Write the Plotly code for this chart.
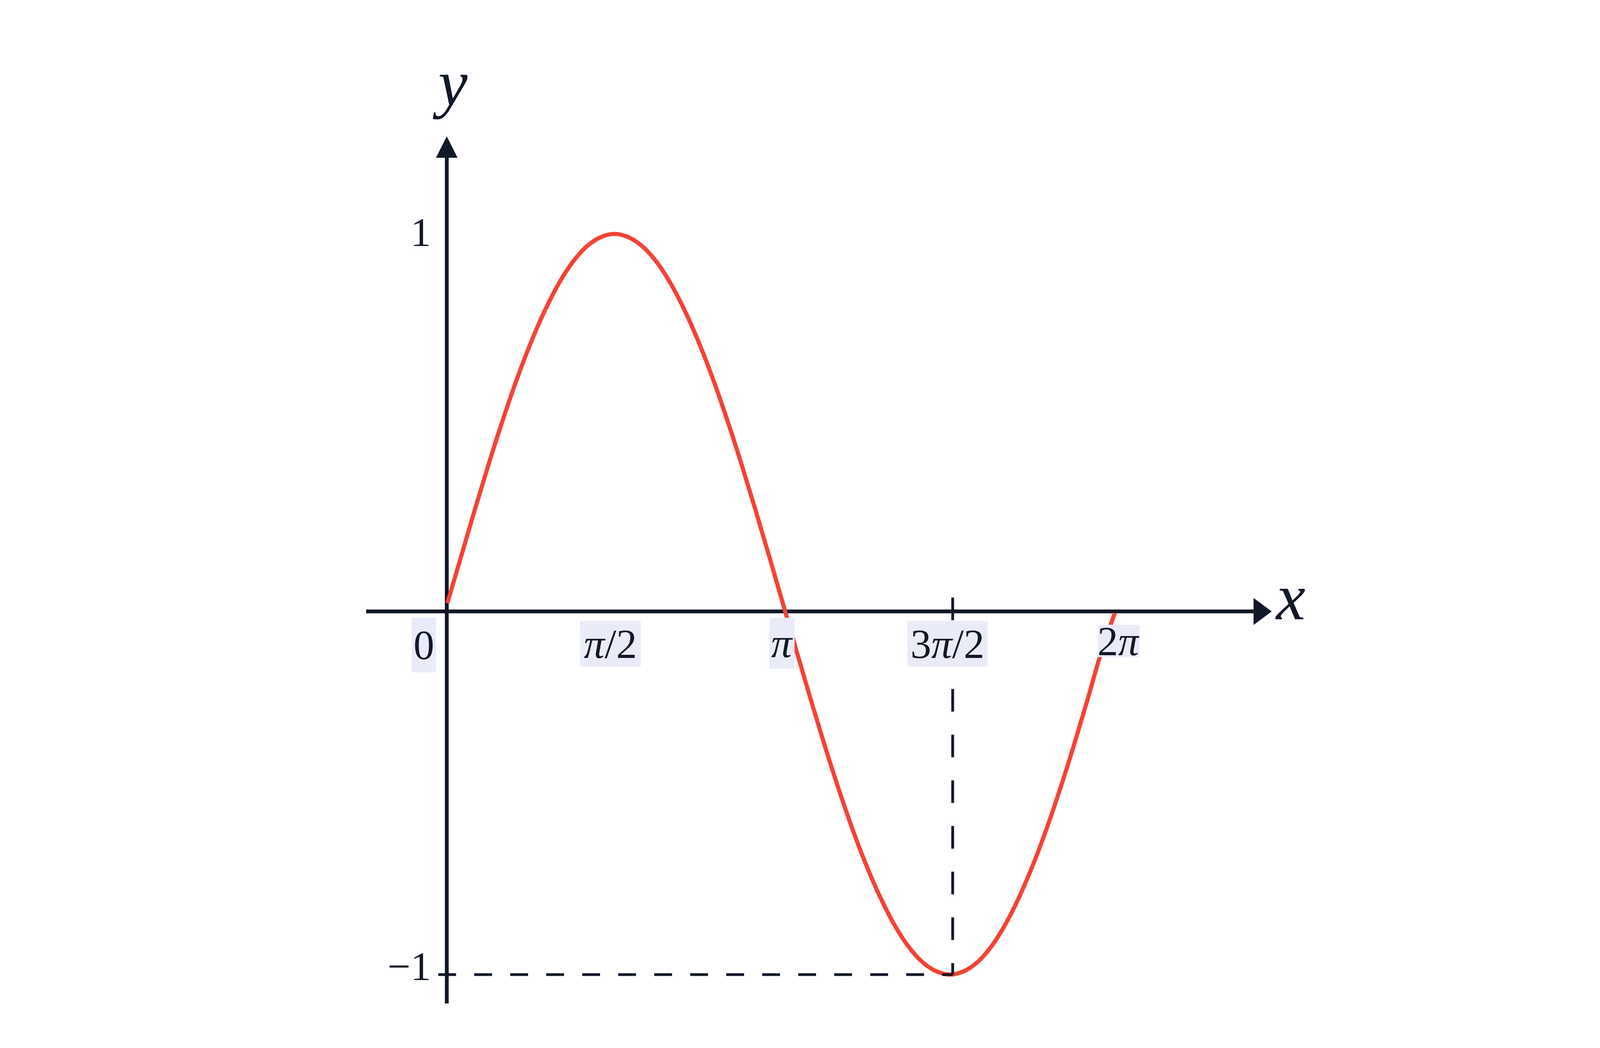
import math
import plotly.graph_objects as go

# ---- data ----
curve_x = [0.0057, 0.1354, 0.2651, 0.3948, 0.5245, 0.6542, 0.7839, 0.9136,
           1.0433, 1.1730, 1.3027, 1.4323, 1.5620,
           1.6929, 1.8238, 1.9547, 2.0856, 2.2165, 2.3474, 2.4783,
           2.6091, 2.7400, 2.8709, 3.0018, 3.1327,
           3.2624, 3.3921, 3.5218, 3.6515, 3.7812, 3.9109, 4.0406,
           4.1703, 4.3000, 4.4297, 4.5593, 4.6890,
           4.8168, 4.9446, 5.0724, 5.2001, 5.3279, 5.4557, 5.5835,
           5.7113, 5.8391, 5.9669, 6.0947, 6.2224]
curve_y = [0.003, 0.131, 0.259, 0.383, 0.500, 0.609, 0.707, 0.793,
           0.866, 0.924, 0.966, 0.991, 1.000,
           0.991, 0.966, 0.924, 0.866, 0.793, 0.707, 0.609,
           0.500, 0.383, 0.259, 0.131, 0.000,
           -0.131, -0.259, -0.383, -0.500, -0.609, -0.707, -0.793,
           -0.866, -0.924, -0.966, -0.991, -1.000,
           -0.991, -0.966, -0.924, -0.866, -0.793, -0.707, -0.609,
           -0.500, -0.383, -0.259, -0.131, -0.024]

x_tick_vals = [0, math.pi / 2, math.pi, 3 * math.pi / 2, 2 * math.pi]
x_tick_text = ["0", "<i>π</i>/2", "<i>π</i>", "3<i>π</i>/2", "2<i>π</i>"]
y_tick_vals = [1, -1]
y_tick_text = ["1", "−1"]

guide_point = (3 * math.pi / 2, -1)   # minimum marked by dashed guides

# ---- styling ----
INK = "#111827"
RED = "#F44336"
LABEL_BG = "#E9EBF9"
FONT = "Liberation Serif"

W, H = 5200, 2684
X_RANGE = [-4.1617, 10.742]
Y_RANGE = [-1.1982, 1.6315]

AXIS_Y = -0.0195          # x-axis line sits just under y = 0
X_AX_START, X_AX_END, X_TIP = -0.751, 7.515, 7.684
Y_AX_START, Y_AX_END, Y_TIP = -1.078, 1.2056, 1.2636
ARROW_HALF_X = 0.1003      # half width of y-arrow (x units)
ARROW_HALF_Y = 0.0364      # half height of x-arrow (y units)

fig = go.Figure()
fig.add_trace(go.Scatter(
    x=curve_x, y=curve_y, mode="lines",
    line=dict(color=RED, width=12, shape="spline", smoothing=1.0),
    hoverinfo="skip", showlegend=False,
))

shapes = [
    # axes
    dict(type="line", x0=X_AX_START, x1=X_AX_END, y0=AXIS_Y, y1=AXIS_Y,
         line=dict(color=INK, width=11), layer="below"),
    dict(type="line", x0=0, x1=0, y0=Y_AX_START, y1=Y_AX_END,
         line=dict(color=INK, width=11), layer="below"),
    dict(type="path",
         path=f"M {X_AX_END},{AXIS_Y + ARROW_HALF_Y} L {X_TIP},{AXIS_Y} "
              f"L {X_AX_END},{AXIS_Y - ARROW_HALF_Y} Z",
         fillcolor=INK, line=dict(width=0), layer="below"),
    dict(type="path",
         path=f"M {-ARROW_HALF_X},{Y_AX_END} L 0,{Y_TIP} L {ARROW_HALF_X},{Y_AX_END} Z",
         fillcolor=INK, line=dict(width=0), layer="below"),
    # dashed guides to the minimum
    dict(type="line", x0=-0.080, x1=guide_point[0], y0=guide_point[1], y1=guide_point[1],
         line=dict(color=INK, width=8, dash="58px,59px"), layer="above"),
    dict(type="line", x0=guide_point[0], x1=guide_point[0], y0=0.018, y1=guide_point[1],
         line=dict(color=INK, width=8, dash="58px,59px"), layer="above"),
]

annotations = []
# x tick labels with light boxes: (xshift, yshift, box w, box h)
box_specs = [(-75, -16, 70, 140), (-16.5, -24, 175, 117), (-6, -16, 72, 130),
             (-16.5, -24, 231, 117), (-8.5, -34, 119, 83)]
for val, txt, (xs, ys, bw, bh) in zip(x_tick_vals, x_tick_text, box_specs):
    annotations.append(dict(
        x=val, y=AXIS_Y, xref="x", yref="y", text=txt, showarrow=False,
        xanchor="center", yanchor="top", xshift=xs, yshift=ys,
        width=bw, height=bh, bgcolor=LABEL_BG, borderpad=0, borderwidth=0,
        valign="middle", align="center",
        font=dict(family=FONT, size=120, color=INK),
    ))
for val, txt, ys in zip(y_tick_vals, y_tick_text, [4, 21]):
    annotations.append(dict(
        x=0, y=val, xref="x", yref="y", text=txt, showarrow=False,
        xanchor="right", yanchor="middle", xshift=-49, yshift=ys,
        font=dict(family=FONT, size=118, color=INK),
    ))
# axis names
annotations.append(dict(
    x=X_TIP, y=AXIS_Y, xref="x", yref="y", text="<i>x</i>", showarrow=False,
    xanchor="left", yanchor="middle", xshift=8, yshift=37,
    font=dict(family=FONT, size=190, color=INK),
))
annotations.append(dict(
    x=0, y=Y_TIP, xref="x", yref="y", text="<i>y</i>", showarrow=False,
    xanchor="center", yanchor="middle", xshift=10, yshift=136,
    font=dict(family=FONT, size=190, color=INK),
))

fig.update_layout(
    width=W, height=H,
    margin=dict(l=0, r=0, t=0, b=0, pad=0),
    paper_bgcolor="white", plot_bgcolor="white",
    xaxis=dict(range=X_RANGE, visible=False, fixedrange=True),
    yaxis=dict(range=Y_RANGE, visible=False, fixedrange=True),
    shapes=shapes, annotations=annotations, showlegend=False,
)

# The design is made for a 5200x2684 page.  If the browser viewport is a different size,
# stretch the figure to fill it: data-placed marks follow the axes automatically, and the
# pixel-based offsets, box sizes, fonts and strokes are rescaled to match.
fit_js = """
(function () {
  var DW = %d, DH = %d;
  var de = document.documentElement, b = document.body;
  b.style.margin = '0'; de.style.overflow = 'hidden'; b.style.overflow = 'hidden';
  var vw = window.innerWidth, vh = window.innerHeight;
  var sx = vw / DW, sy = vh / DH, sf = Math.sqrt(sx * sy);
  if (Math.abs(sx - 1) < 1e-3 && Math.abs(sy - 1) < 1e-3) return;
  var gd = document.getElementsByClassName('plotly-graph-div')[0];
  var L = gd.layout;
  var anns = (L.annotations || []).map(function (a) {
    var c = JSON.parse(JSON.stringify(a));
    if (c.xshift) c.xshift *= sx;
    if (c.yshift) c.yshift *= sy;
    if (c.width) c.width *= sf;
    if (c.height) c.height *= sy;
    if (c.font && c.font.size) c.font.size *= sf;
    return c;
  });
  var shapes = (L.shapes || []).map(function (s) {
    var c = JSON.parse(JSON.stringify(s));
    if (c.line && c.line.width) c.line.width *= sf;
    if (c.line && typeof c.line.dash === 'string' && c.line.dash.indexOf('px') >= 0) {
      var k = (c.x0 === c.x1) ? sy : sx;
      c.line.dash = c.line.dash.split(',').map(function (v) {
        return (parseFloat(v) * k).toFixed(2) + 'px';
      }).join(',');
    }
    return c;
  });
  var lw = gd.data.map(function (t) {
    return (t.line && t.line.width) ? t.line.width * sf : 2;
  });
  gd.style.width = vw + 'px'; gd.style.height = vh + 'px';
  return Plotly.update(gd, {'line.width': lw},
                       {width: vw, height: vh, annotations: anns, shapes: shapes});
})();
""" % (W, H)

fig.write_html("out.html", post_script=fit_js, config={"displayModeBar": False})
